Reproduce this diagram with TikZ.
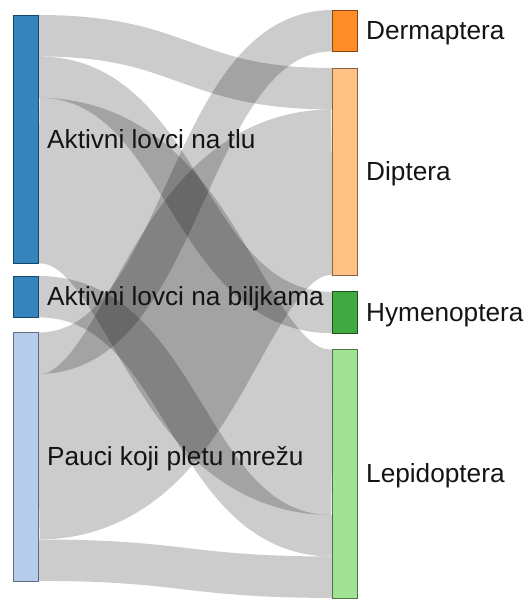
\documentclass[tikz,border=0pt]{standalone}
\usepackage{fontspec}
\setmainfont{Liberation Sans}
\usetikzlibrary{calc}
\pgfdeclarelayer{bg}
\pgfsetlayers{bg,main}
\definecolor{cA}{RGB}{31,119,180}
\definecolor{cAb}{RGB}{20,70,110}
\definecolor{cP}{RGB}{174,199,232}
\definecolor{cPb}{RGB}{95,110,130}
\definecolor{cDe}{RGB}{255,127,14}
\definecolor{cDeb}{RGB}{140,70,15}
\definecolor{cDi}{RGB}{255,187,120}
\definecolor{cDib}{RGB}{140,100,65}
\definecolor{cH}{RGB}{44,160,44}
\definecolor{cHb}{RGB}{25,85,25}
\definecolor{cL}{RGB}{152,223,138}
\definecolor{cLb}{RGB}{80,115,72}
\begin{document}
\begin{tikzpicture}[x=1pt,y=-1pt,
  box/.style={draw, line width=0.7pt, inner sep=0pt, outer sep=0pt,
    minimum width=25.5pt, fill opacity=0.9, anchor=north west},
  link/.style={draw=black, draw opacity=0.2, line width=#1, line cap=butt},
  lbl/.style={anchor=base west, inner sep=0pt, text=black!92,
    font=\fontsize{26.2}{30}\selectfont}]
\useasboundingbox (0,0) rectangle (528,599);
% source nodes
\node[box, fill=cA, draw=cAb, minimum height=248.4pt] (A) at (13,15) {};
\node[box, fill=cA, draw=cAb, minimum height=41.4pt] (B) at (13,276) {};
\node[box, fill=cP, draw=cPb, minimum height=248.4pt] (P) at (13,332.5) {};
% target nodes
\node[box, fill=cDe, draw=cDeb, minimum height=41.4pt] (De) at (332.3,10) {};
\node[box, fill=cDi, draw=cDib, minimum height=207pt] (Di) at (332.3,68) {};
\node[box, fill=cH, draw=cHb, minimum height=41.4pt] (H) at (332.3,291.8) {};
\node[box, fill=cL, draw=cLb, minimum height=248.4pt] (L) at (332.3,349.5) {};
% labels
\node[lbl] (tA) at (47,148.4) {Aktivni lovci na tlu};
\node[lbl] (tB) at (47,305.9) {Aktivni lovci na biljkama};
\node[lbl] (tP) at (47,465.9) {Pauci koji pletu mrežu};
\node[lbl] (tDe) at (366,39.9) {Dermaptera};
\node[lbl] (tDi) at (366,180.7) {Diptera};
\node[lbl] (tH) at (366,321.7) {Hymenoptera};
\node[lbl] (tL) at (366,482.9) {Lepidoptera};
% link end points
\coordinate (m) at (185.4,0);
\coordinate (s1) at ([yshift=-20.7pt]A.north east);
\coordinate (t1) at ([yshift=-20.7pt]Di.north west);
\coordinate (s2) at ([yshift=-62.1pt]A.north east);
\coordinate (t2) at (H.west);
\coordinate (s3) at ([yshift=-165.6pt]A.north east);
\coordinate (t3) at ([yshift=-82.8pt]L.north west);
\coordinate (s4) at (B.east);
\coordinate (t4) at ([yshift=-186.3pt]L.north west);
\coordinate (s5) at ([yshift=-20.7pt]P.north east);
\coordinate (t5) at (De.west);
\coordinate (s6) at ([yshift=-124.2pt]P.north east);
\coordinate (t6) at ([yshift=-124.2pt]Di.north west);
\coordinate (s7) at ([yshift=-227.7pt]P.north east);
\coordinate (t7) at ([yshift=-227.7pt]L.north west);
\begin{pgfonlayer}{bg}
\draw[link=41.4pt] (s1) .. controls (m |- s1) and (m |- t1) .. (t1);
\draw[link=41.4pt] (s2) .. controls (m |- s2) and (m |- t2) .. (t2);
\draw[link=165.6pt] (s3) .. controls (m |- s3) and (m |- t3) .. (t3);
\draw[link=41.4pt] (s4) .. controls (m |- s4) and (m |- t4) .. (t4);
\draw[link=41.4pt] (s5) .. controls (m |- s5) and (m |- t5) .. (t5);
\draw[link=165.6pt] (s6) .. controls (m |- s6) and (m |- t6) .. (t6);
\draw[link=41.4pt] (s7) .. controls (m |- s7) and (m |- t7) .. (t7);
\end{pgfonlayer}
\end{tikzpicture}
\end{document}
